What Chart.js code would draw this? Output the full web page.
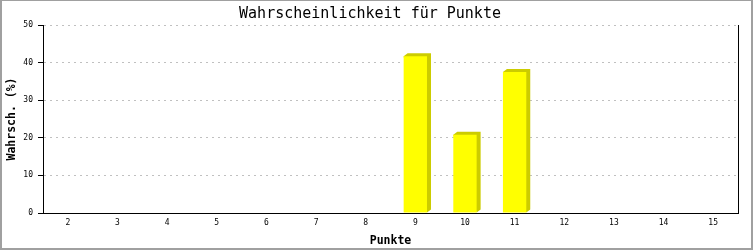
<!DOCTYPE html>
<html>
<head>
<meta charset="utf-8">
<script src="https://cdn.jsdelivr.net/npm/chart.js@4/dist/chart.umd.min.js"></script>
<style>
    html, body { margin: 0; padding: 0; background: #fff; }
    #wrap {
        width: 753px; height: 250px; box-sizing: border-box;
        border: 2px solid #a0a0a0; border-top-width: 1px;
        background: #fff;
    }
    canvas { display: block; }
</style>
</head>
<body>
<div id="wrap"><canvas id="chart" width="749" height="247"></canvas></div>
<script>
    'use strict';

    // Points (sum) and probability in percent
    const categories = ['2', '3', '4', '5', '6', '7', '8', '9', '10', '11', '12', '13', '14', '15'];
    const probabilities = [0, 0, 0, 0, 0, 0, 0, 41.7, 20.8, 37.5, 0, 0, 0, 0];
    const yTicks = [0, 10, 20, 30, 40, 50];

    const MONO = '"DejaVu Sans Mono", "Liberation Mono", monospace';

    // Draw the darker "3D" side of each bar behind it
    const barDepth = {
        id: 'barDepth',
        beforeDatasetsDraw(chart) {
            const ctx = chart.ctx;
            const meta = chart.getDatasetMeta(0);
            const dx = 4, dy = 3;
            ctx.save();
            ctx.fillStyle = '#cccc00';
            meta.data.forEach((bar) => {
                const p = bar.getProps(['x', 'y', 'base', 'width'], true);
                if (p.base - p.y < 1) return;
                const l = p.x - p.width / 2, r = p.x + p.width / 2;
                ctx.beginPath();
                ctx.moveTo(l, p.y);
                ctx.lineTo(l + dx, p.y - dy);
                ctx.lineTo(r + dx, p.y - dy);
                ctx.lineTo(r + dx, p.base - dy);
                ctx.lineTo(r, p.base);
                ctx.closePath();
                ctx.fill();
            });
            ctx.restore();
        }
    };

    new Chart(document.getElementById('chart'), {
        type: 'bar',
        data: {
            labels: categories,
            datasets: [{
                data: probabilities,
                backgroundColor: '#ffff00',
                borderWidth: 0,
                barPercentage: 0.47,
                categoryPercentage: 1
            }]
        },
        options: {
            responsive: false,
            animation: false,
            layout: { padding: { left: 0, right: 13, top: 0, bottom: 0 } },
            plugins: {
                legend: { display: false },
                tooltip: { enabled: false },
                title: {
                    display: true,
                    text: 'Wahrscheinlichkeit für Punkte',
                    color: '#000',
                    font: { family: MONO, size: 15, weight: 'normal', lineHeight: 1.2 },
                    padding: { top: 4, bottom: 2 }
                }
            },
            scales: {
                x: {
                    offset: true,
                    grid: { display: false, drawTicks: false },
                    border: { display: true, color: '#000', width: 1 },
                    ticks: {
                        color: '#000',
                        padding: 5,
                        maxRotation: 0,
                        font: { family: MONO, size: 8 }
                    },
                    title: {
                        display: true,
                        text: 'Punkte',
                        color: '#000',
                        font: { family: MONO, size: 11.5, weight: 'bold' },
                        padding: { top: 3, bottom: 0 }
                    },
                    afterFit(scale) { scale.height = 35; }
                },
                y: {
                    min: 0,
                    max: 50,
                    afterBuildTicks(scale) {
                        scale.ticks = yTicks.map((v) => ({ value: v }));
                    },
                    grid: {
                        color: (c) => (c.tick && c.tick.value === 0 ? 'rgba(0,0,0,0)' : '#c0c0c0'),
                        tickColor: '#000',
                        tickLength: 5,
                        tickBorderDash: [],
                        lineWidth: 1
                    },
                    border: { display: true, color: '#000', width: 1, dash: [2, 4] },
                    ticks: {
                        color: '#000',
                        padding: 5,
                        font: { family: MONO, size: 8 }
                    },
                    title: {
                        display: true,
                        text: 'Wahrsch. (%)',
                        color: '#000',
                        font: { family: MONO, size: 11.5, weight: 'bold' },
                        padding: { top: 3, bottom: 0 }
                    },
                    afterFit(scale) { scale.width = 41; }
                },
                y2: {
                    position: 'right',
                    min: 0,
                    max: 50,
                    grid: { display: false, drawTicks: false },
                    border: { display: true, color: '#000', width: 1 },
                    ticks: { display: false },
                    afterFit(scale) { scale.width = 0; }
                }
            }
        },
        plugins: [barDepth]
    });
</script>
</body>
</html>
